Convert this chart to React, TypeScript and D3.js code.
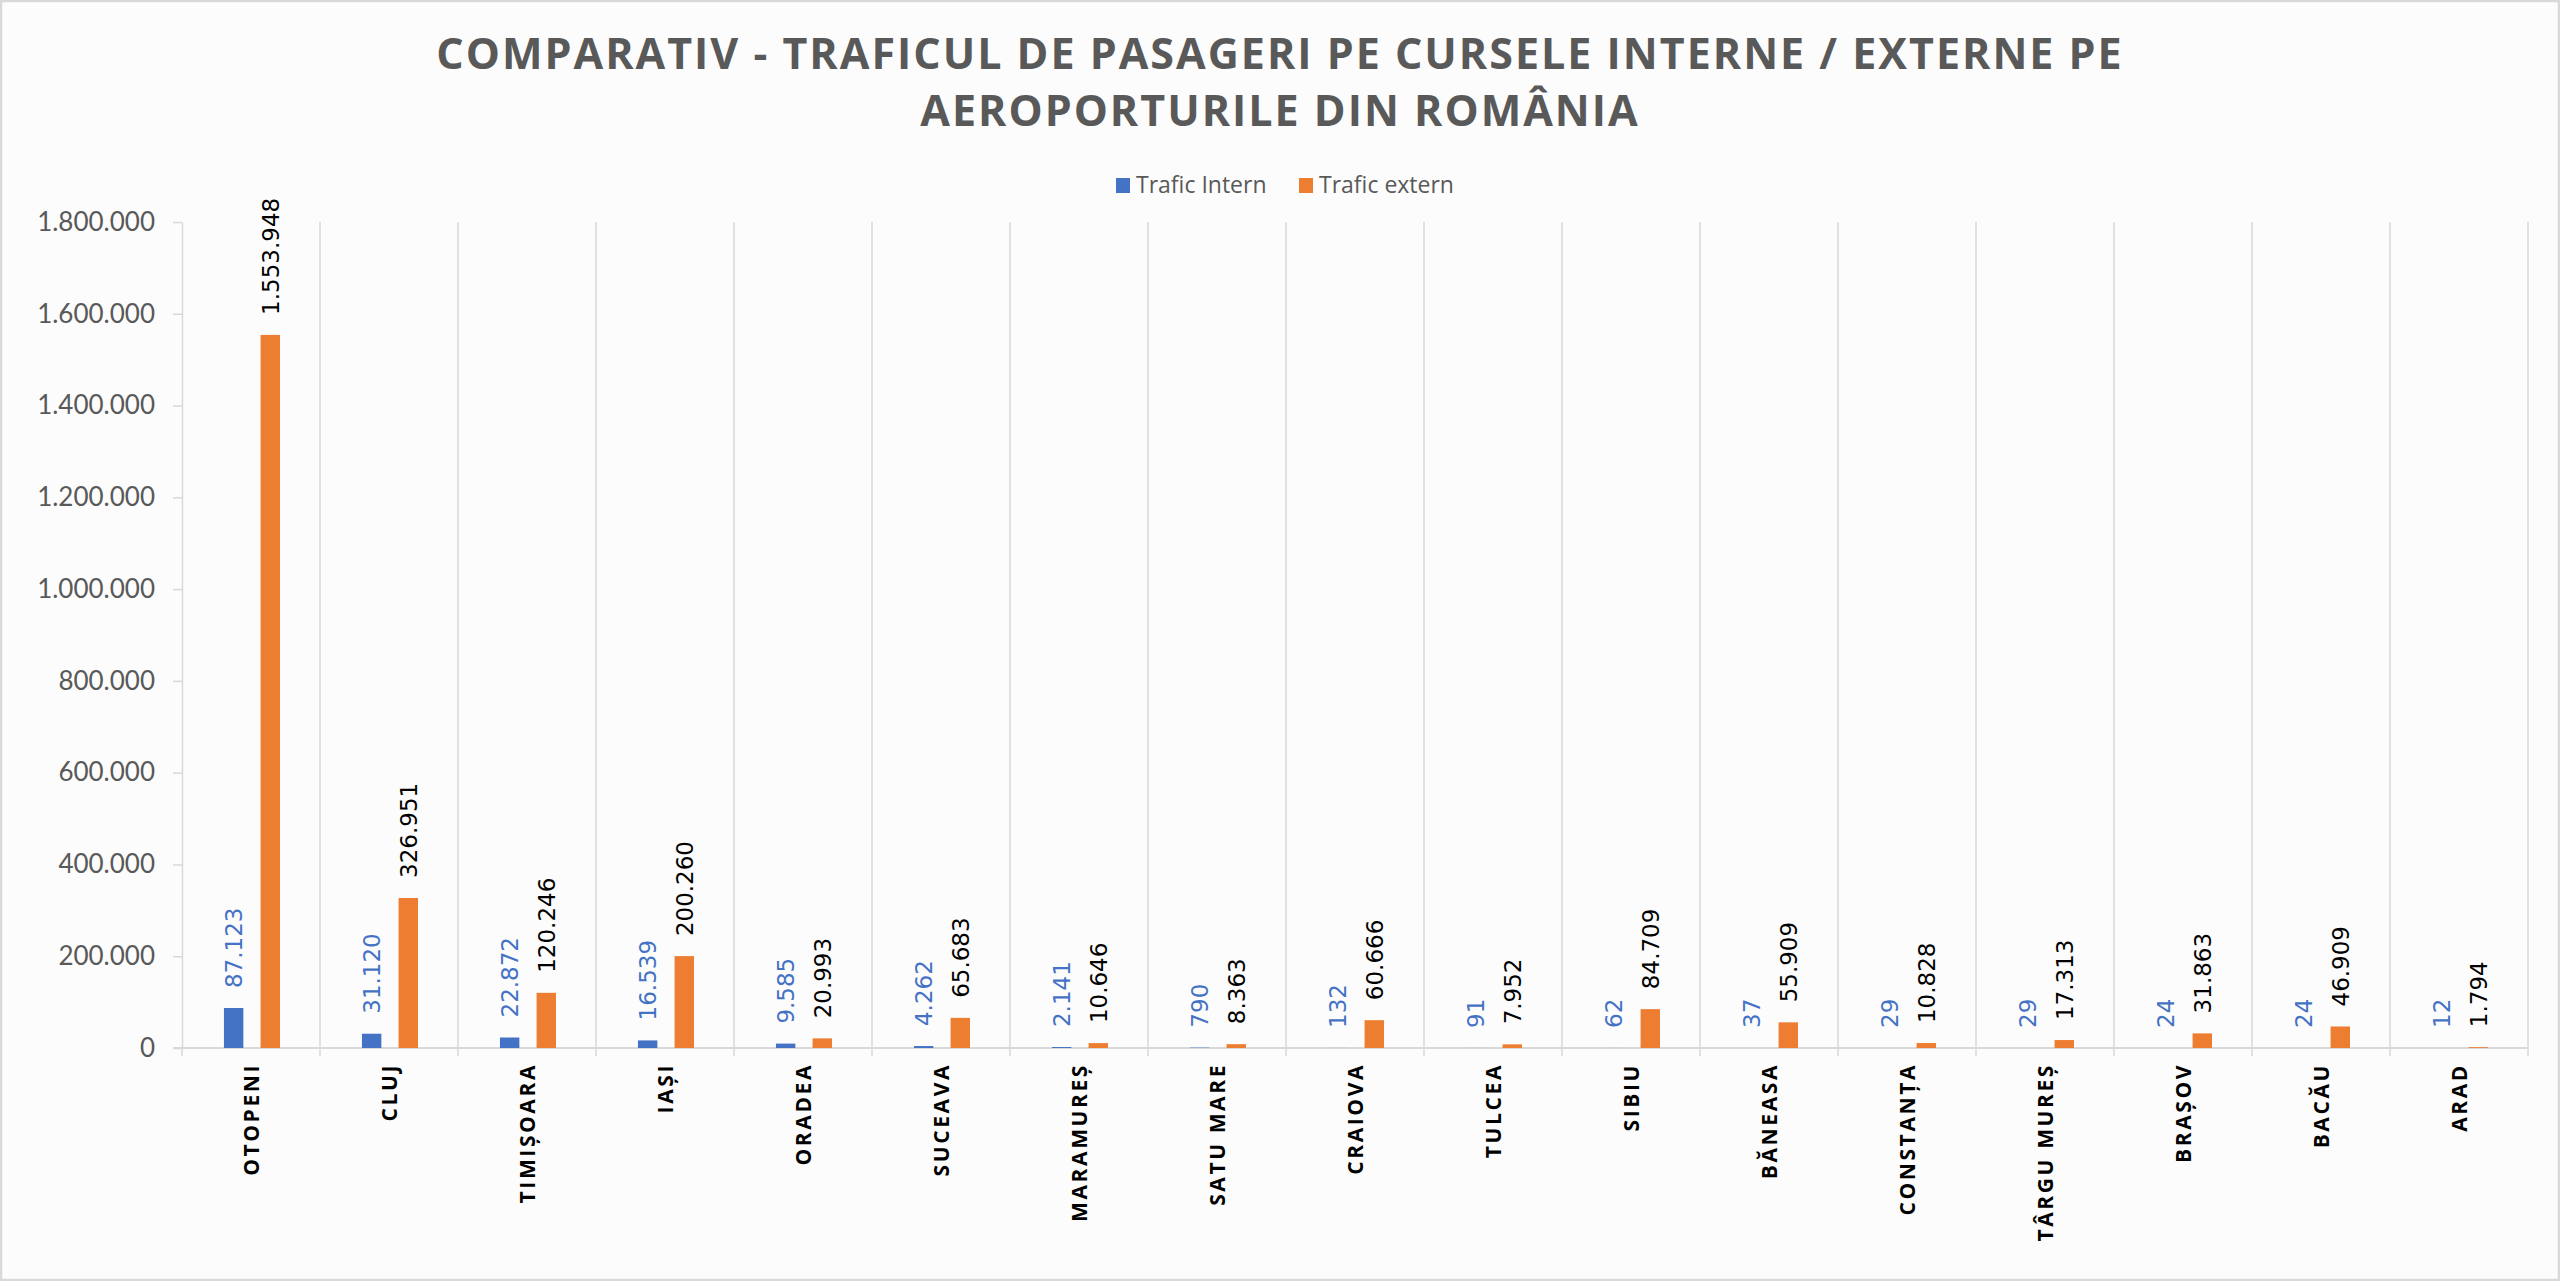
import React, { useEffect, useRef } from 'react';
import * as d3 from 'd3';

const categories = ['OTOPENI', 'CLUJ', 'TIMIȘOARA', 'IAȘI', 'ORADEA', 'SUCEAVA', 'MARAMUREȘ', 'SATU MARE', 'CRAIOVA', 'TULCEA', 'SIBIU', 'BĂNEASA', 'CONSTANȚA', 'TÂRGU MUREȘ', 'BRAȘOV', 'BACĂU', 'ARAD'];
const traficIntern = [87123, 31120, 22872, 16539, 9585, 4262, 2141, 790, 132, 91, 62, 37, 29, 29, 24, 24, 12];
const traficExtern = [1553948, 326951, 120246, 200260, 20993, 65683, 10646, 8363, 60666, 7952, 84709, 55909, 10828, 17313, 31863, 46909, 1794];
const seriesNames = ['Trafic Intern', 'Trafic extern'];
const yTicks = [0, 200000, 400000, 600000, 800000, 1000000, 1200000, 1400000, 1600000, 1800000];
const titleLines = ['COMPARATIV - TRAFICUL DE PASAGERI PE CURSELE INTERNE / EXTERNE PE', 'AEROPORTURILE DIN ROMÂNIA'];

const W = 2560;
const H = 1281;

export default function App() {
  const svgRef = useRef<SVGSVGElement>(null);

  useEffect(() => {
    if (!svgRef.current) return;
    const svg = d3.select(svgRef.current);
    svg.selectAll('*').remove();

    const left = 182, right = 2528, top = 222, bottom = 1048;
    const colors = ['#4472C4', '#ED7D31'];
    const labelColors = ['#4472C4', '#000000'];
    const fmt = d3.formatLocale({ decimal: ',', thousands: '.', grouping: [3], currency: ['', ''] }).format(',d');

    // background + border
    svg.append('rect')
      .attr('x', 1).attr('y', 1).attr('width', W - 2).attr('height', H - 2)
      .attr('fill', '#fcfcfc').attr('stroke', '#d9d9d9').attr('stroke-width', 2.5);

    // title
    svg.append('g').selectAll('text')
      .data(titleLines)
      .enter().append('text')
      .attr('x', W / 2)
      .attr('y', (d, i) => 69 + i * 57)
      .attr('text-anchor', 'middle')
      .attr('font-family', '"Open Sans", sans-serif')
      .attr('font-weight', 700)
      .attr('font-size', 43)
      .style('letter-spacing', '2px')
      .attr('fill', '#595959')
      .text(d => d);

    // legend
    const legendX = [1116, 1299];
    const legend = svg.append('g').selectAll('g')
      .data(seriesNames)
      .enter().append('g')
      .attr('transform', (d, i) => `translate(${legendX[i]},178)`);
    legend.append('rect').attr('width', 14).attr('height', 15).attr('fill', (d, i) => colors[i]);
    legend.append('text')
      .attr('x', 20).attr('y', 15)
      .attr('font-family', '"Open Sans", sans-serif')
      .attr('font-size', 23)
      .attr('fill', '#595959')
      .text(d => d);

    const x0 = d3.scaleBand<string>().domain(categories).range([left, right]).padding(0);
    const bw = x0.bandwidth();
    const x1 = d3.scaleBand<string>().domain(seriesNames).range([bw * 0.304, bw * 0.71]).paddingInner(0.47);
    const y = d3.scaleLinear().domain([0, 1800000]).range([bottom, top]);

    // vertical gridlines at category boundaries
    const bounds = categories.map(c => x0(c) as number).concat([right]);
    svg.append('g').selectAll('line')
      .data(bounds.slice(1))
      .enter().append('line')
      .attr('x1', d => d).attr('x2', d => d)
      .attr('y1', top).attr('y2', bottom)
      .attr('stroke', '#d9d9d9').attr('stroke-width', 1.5);

    // x axis ticks
    svg.append('g').selectAll('line')
      .data(bounds)
      .enter().append('line')
      .attr('x1', d => d).attr('x2', d => d)
      .attr('y1', bottom).attr('y2', bottom + 8)
      .attr('stroke', '#d9d9d9').attr('stroke-width', 1.5);

    // y axis
    const yAxis = svg.append('g')
      .attr('transform', `translate(${left},0)`)
      .call(d3.axisLeft(y).tickValues(yTicks).tickFormat(d => fmt(d as number)).tickSize(9).tickSizeOuter(0).tickPadding(18));
    yAxis.select('.domain').attr('stroke', '#d9d9d9').attr('stroke-width', 1.5);
    yAxis.selectAll('.tick line').attr('stroke', '#d9d9d9').attr('stroke-width', 1.5);
    yAxis.selectAll('.tick text')
      .attr('font-family', 'Lato, sans-serif')
      .attr('font-size', 26)
      .attr('fill', '#595959');

    // x axis baseline
    svg.append('line')
      .attr('x1', left - 9).attr('x2', right)
      .attr('y1', bottom).attr('y2', bottom)
      .attr('stroke', '#d9d9d9').attr('stroke-width', 2);

    const seriesData = [traficIntern, traficExtern];
    seriesData.forEach((vals, si) => {
      const g = svg.append('g');
      const items = categories.map((c, i) => ({ c, v: vals[i] }));
      g.selectAll('rect')
        .data(items)
        .enter().append('rect')
        .attr('x', d => (x0(d.c) as number) + (x1(seriesNames[si]) as number))
        .attr('width', x1.bandwidth())
        .attr('y', d => y(d.v))
        .attr('height', d => bottom - y(d.v))
        .attr('fill', colors[si]);

      g.selectAll('text')
        .data(items)
        .enter().append('text')
        .attr('transform', d => {
          const cx = (x0(d.c) as number) + (x1(seriesNames[si]) as number) + x1.bandwidth() / 2;
          return `translate(${cx},${y(d.v) - 20}) rotate(-90)`;
        })
        .attr('dy', '0.36em')
        .attr('font-family', '"DejaVu Sans", sans-serif')
        .attr('font-size', 23)
        .attr('fill', labelColors[si])
        .text(d => fmt(d.v));
    });

    // category labels
    svg.append('g').selectAll('text')
      .data(categories)
      .enter().append('text')
      .attr('transform', d => `translate(${(x0(d) as number) + bw / 2},${bottom + 15}) rotate(-90)`)
      .attr('text-anchor', 'end')
      .attr('dy', '0.36em')
      .attr('font-family', '"Open Sans", sans-serif')
      .attr('font-weight', 700)
      .attr('font-size', 21)
      .style('letter-spacing', '2.6px')
      .attr('fill', '#000000')
      .text(d => d);
  }, []);

  return (
    <svg ref={svgRef} width={W} height={H} viewBox={`0 0 ${W} ${H}`}
      style={{ position: 'absolute', left: 0, top: 0, display: 'block' }} />
  );
}
